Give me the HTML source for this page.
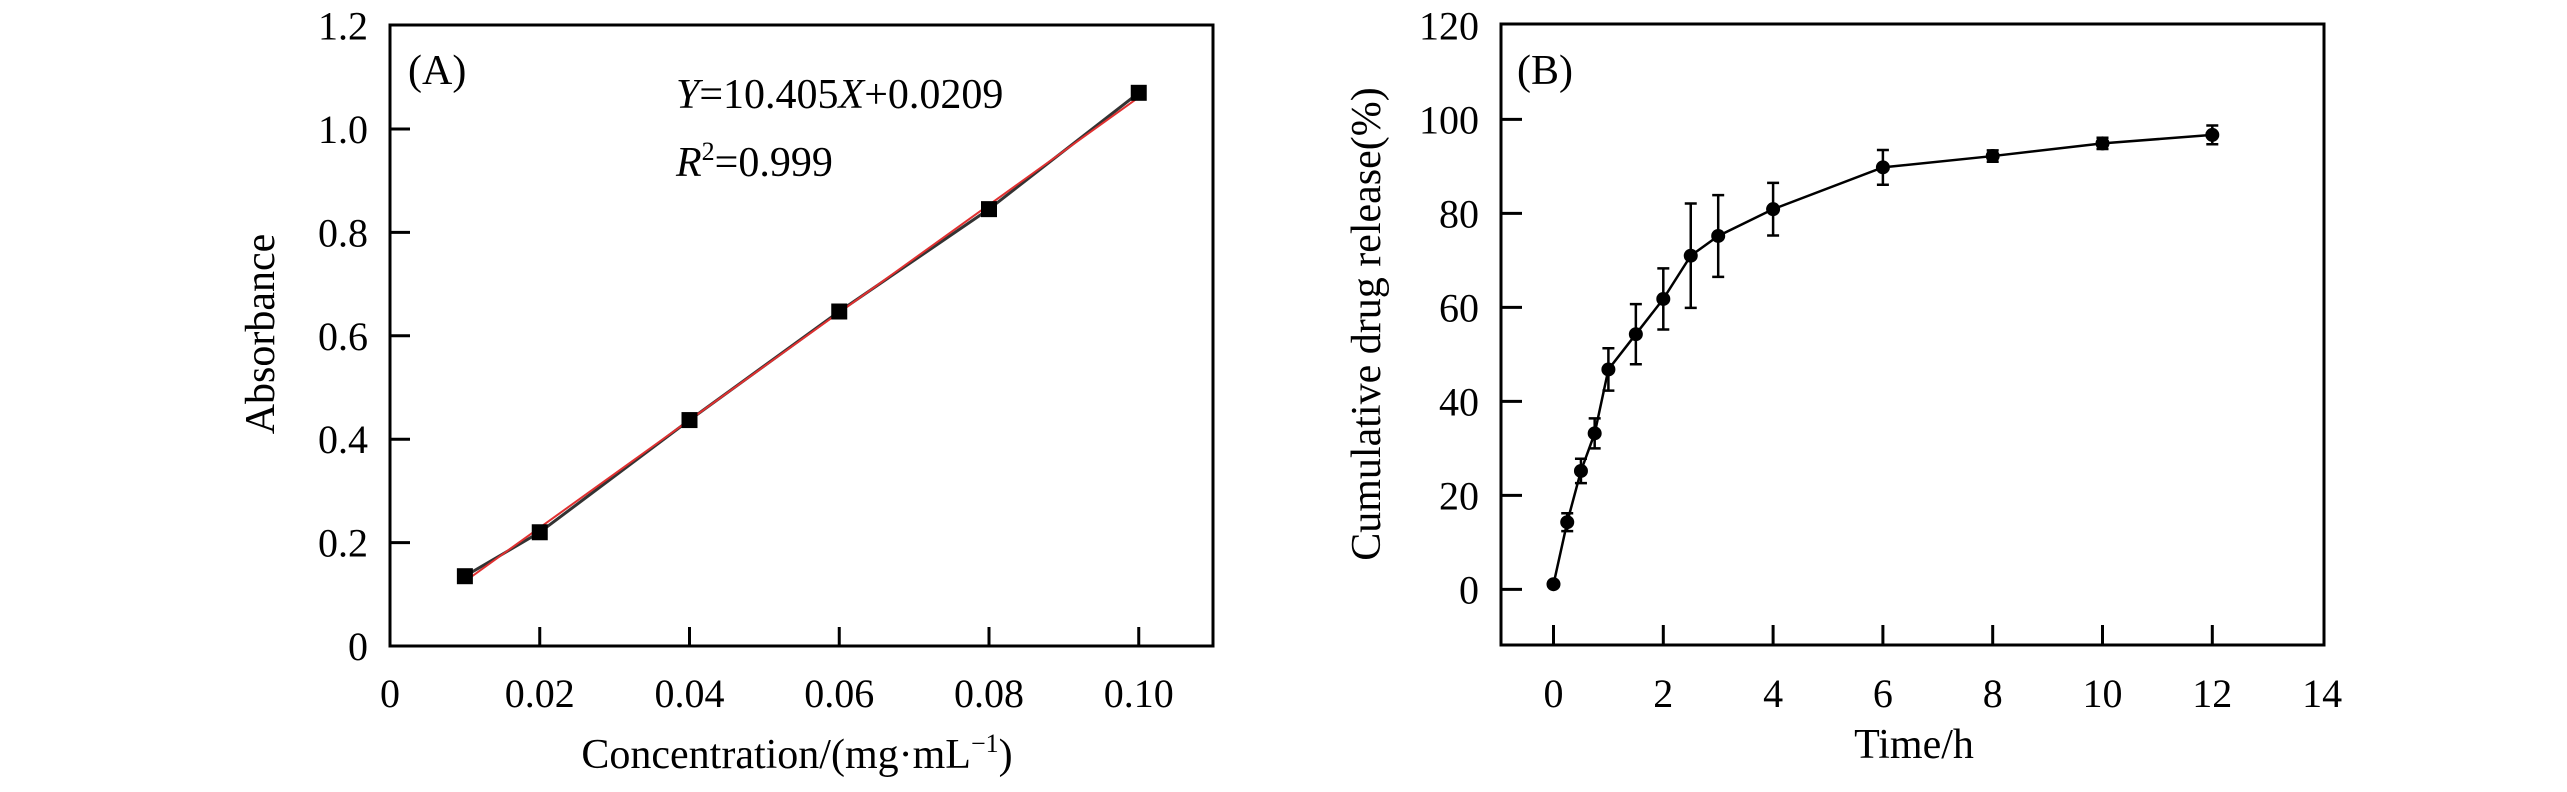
<!DOCTYPE html>
<html><head><meta charset="utf-8"><style>
html,body{margin:0;padding:0;background:#fff;}
svg{display:block;font-family:"Liberation Serif",serif;}
</style></head><body>
<svg id="chart" width="2567" height="792" viewBox="0 0 2567 792" xmlns="http://www.w3.org/2000/svg">
<g id="pa"></g>
<g id="pb"></g>
</svg>
<script>
const concA = [0.01, 0.02, 0.04, 0.06, 0.08, 0.10];
const absA = [0.135, 0.22, 0.437, 0.647, 0.845, 1.07];
const xTicksA = [0, 0.02, 0.04, 0.06, 0.08, 0.10];
const xTickLabelsA = ["0", "0.02", "0.04", "0.06", "0.08", "0.10"];
const yTicksA = [0, 0.2, 0.4, 0.6, 0.8, 1.0, 1.2];
const yTickLabelsA = ["0", "0.2", "0.4", "0.6", "0.8", "1.0", "1.2"];
const fitSlope = 10.405;
const fitIntercept = 0.0209;

const timeB = [0, 0.25, 0.5, 0.75, 1, 1.5, 2, 2.5, 3, 4, 6, 8, 10, 12];
const releaseB = [1.1, 14.3, 25.2, 33.2, 46.8, 54.3, 61.8, 71.0, 75.2, 80.9, 89.8, 92.2, 94.9, 96.7];
const errB = [0, 1.9, 2.6, 3.2, 4.5, 6.4, 6.5, 11.1, 8.7, 5.6, 3.7, 1.2, 1.2, 2.0];
const xTicksB = [0, 2, 4, 6, 8, 10, 12, 14];
const xTickLabelsB = ["0", "2", "4", "6", "8", "10", "12", "14"];
const yTicksB = [0, 20, 40, 60, 80, 100, 120];
const yTickLabelsB = ["0", "20", "40", "60", "80", "100", "120"];

const NS = "http://www.w3.org/2000/svg";
function mk(parent, tag, attrs, text) {
  const e = document.createElementNS(NS, tag);
  for (const k in attrs) e.setAttribute(k, attrs[k]);
  if (text !== undefined) e.textContent = text;
  parent.appendChild(e);
  return e;
}

// Panel A
const pa = document.getElementById('pa');
const AL = 390, AR = 1213, AT = 25, AB = 646;
const ax = v => AL + v / 0.02 * 149.75;
const ay = v => AB - v / 0.2 * 103.4;
let fr = mk(pa, 'rect', {x: AL, y: AT, width: AR - AL, height: AB - AT, fill: 'none', stroke: '#000', 'stroke-width': 3});


xTicksA.forEach((v, i) => {
  if (v > 0) {
    const t = mk(pa, 'line', {x1: ax(v), x2: ax(v), y1: AB, y2: AB - 19, stroke: '#000', 'stroke-width': 3});
    
    
  }
  const l = mk(pa, 'text', {x: ax(v), y: 707, 'font-size': 40, 'text-anchor': 'middle'}, xTickLabelsA[i]);
  
  
});
yTicksA.forEach((v, i) => {
  if (v > 0 && v < 1.2) {
    const t = mk(pa, 'line', {x1: AL, x2: AL + 20, y1: ay(v), y2: ay(v), stroke: '#000', 'stroke-width': 3});
    
    
  }
  const l = mk(pa, 'text', {x: 368, y: ay(v) + 14, 'font-size': 40, 'text-anchor': 'end'}, yTickLabelsA[i]);
  
  
});
// data line (black)
let pts = concA.map((c, i) => ax(c) + ',' + ay(absA[i])).join(' ');
let dl = mk(pa, 'polyline', {points: pts, fill: 'none', stroke: '#333', 'stroke-width': 3});


// fit line (red)
const c0 = concA[0], c1 = concA[concA.length - 1];
let fl = mk(pa, 'line', {x1: ax(c0), y1: ay(fitSlope * c0 + fitIntercept), x2: ax(c1), y2: ay(fitSlope * c1 + fitIntercept), stroke: '#e03030', 'stroke-width': 2});


concA.forEach((c, i) => {
  const m = mk(pa, 'rect', {x: ax(c) - 8, y: ay(absA[i]) - 8, width: 16, height: 16, fill: '#000'});
  
  
});
let t;
t = mk(pa, 'text', {x: 408, y: 84, 'font-size': 42}, '(A)');


t = mk(pa, 'text', {x: 676, y: 108, 'font-size': 42});


t.innerHTML = '<tspan font-style="italic">Y</tspan>=10.405<tspan font-style="italic">X</tspan>+0.0209';
t = mk(pa, 'text', {x: 676, y: 176, 'font-size': 42});


t.innerHTML = '<tspan font-style="italic">R</tspan><tspan font-size="26" dy="-16">2</tspan><tspan dy="16">=0.999</tspan>';
t = mk(pa, 'text', {x: 274, y: 334, 'font-size': 42, 'text-anchor': 'middle', transform: 'rotate(-90 274 334)'}, 'Absorbance');


t = mk(pa, 'text', {x: 797, y: 768, 'font-size': 42, 'text-anchor': 'middle'});


t.innerHTML = 'Concentration/(mg·mL<tspan font-size="26" dy="-16">−1</tspan><tspan dy="16">)</tspan>';

// Panel B
const pb = document.getElementById('pb');
const BL = 1501, BR = 2324, BT = 24, BB = 645;
const bx = v => 1553.5 + v / 2 * 109.8;
const by = v => 589.4 - v / 20 * 94;
fr = mk(pb, 'rect', {x: BL, y: BT, width: BR - BL, height: BB - BT, fill: 'none', stroke: '#000', 'stroke-width': 3});


xTicksB.forEach((v, i) => {
  if (v < 14) {
    const tk = mk(pb, 'line', {x1: bx(v), x2: bx(v), y1: BB, y2: BB - 20, stroke: '#000', 'stroke-width': 3});
    
    
  }
  const l = mk(pb, 'text', {x: bx(v), y: 707, 'font-size': 40, 'text-anchor': 'middle'}, xTickLabelsB[i]);
  
  
});
yTicksB.forEach((v, i) => {
  if (v < 120) {
    const tk = mk(pb, 'line', {x1: BL, x2: BL + 21, y1: by(v), y2: by(v), stroke: '#000', 'stroke-width': 3});
    
    
  }
  const l = mk(pb, 'text', {x: 1479, y: by(v) + 14, 'font-size': 40, 'text-anchor': 'end'}, yTickLabelsB[i]);
  
  
});
pts = timeB.map((c, i) => bx(c) + ',' + by(releaseB[i])).join(' ');
dl = mk(pb, 'polyline', {points: pts, fill: 'none', stroke: '#000', 'stroke-width': 2.5});


timeB.forEach((c, i) => {
  const x = bx(c), y = by(releaseB[i]);
  if (errB[i] > 0) {
    const y1 = by(releaseB[i] + errB[i]), y2 = by(releaseB[i] - errB[i]);
    const e = mk(pb, 'path', {d: `M${x},${y1}V${y2}M${x-6},${y1}H${x+6}M${x-6},${y2}H${x+6}`, stroke: '#000', 'stroke-width': 2.5, fill: 'none'});
    
    
  }
  const m = mk(pb, 'circle', {cx: x, cy: y, r: 7, fill: '#000'});
  
  
});
t = mk(pb, 'text', {x: 1517, y: 84, 'font-size': 42}, '(B)');


t = mk(pb, 'text', {x: 1380, y: 324, 'font-size': 42, 'text-anchor': 'middle', transform: 'rotate(-90 1380 324)'}, 'Cumulative drug release(%)');


t = mk(pb, 'text', {x: 1914, y: 758, 'font-size': 42, 'text-anchor': 'middle'}, 'Time/h');


</script>
</body></html>
